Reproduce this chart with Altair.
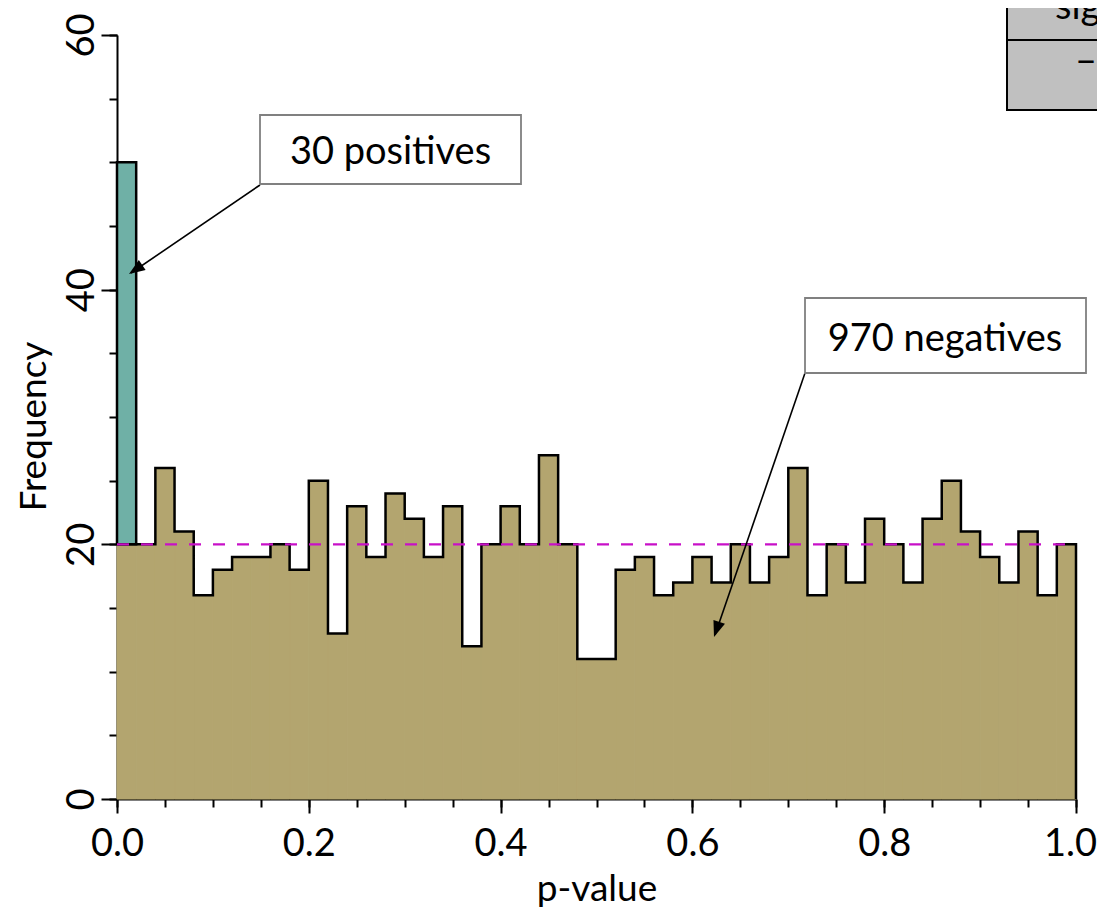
import altair as alt
import pandas as pd

# ---------------- data ----------------
bin_width = 0.02
bin_starts = [round(i * bin_width, 2) for i in range(50)]
negatives = [20, 20, 26, 21, 16, 18, 19, 19, 20, 18,
             25, 13, 23, 19, 24, 22, 19, 23, 12, 20,
             23, 20, 27, 20, 11, 11, 18, 19, 16, 17,
             19, 17, 20, 17, 19, 26, 16, 20, 17, 22,
             20, 17, 22, 25, 21, 19, 17, 21, 16, 20]
positives = [30] + [0] * 49
expected_level = [20]

x_major = [0.0, 0.2, 0.4, 0.6, 0.8, 1.0]
x_minor = [round(0.05 * k, 2) for k in range(21)]
y_major = [0, 20, 40, 60]
y_minor = list(range(0, 61, 5))

label_pos = "30 positives"
label_neg = "970 negatives"
table_header = "significant"
table_row = "–"

FONT = "Lato"
OLIVE = "#b3a56f"
TEAL = "#6fb0a6"
MAGENTA = "#c810c8"

# ---------------- tables ----------------
bins = pd.DataFrame({
    "x0": bin_starts,
    "x1": [round(b + bin_width, 2) for b in bin_starts],
    "n": negatives,
})
step_x = bin_starts + [1.0, 1.0]
step_y = negatives + [negatives[-1], 0]
steps = pd.DataFrame({"x": step_x, "y": step_y, "i": list(range(len(step_x)))})

pos_df = pd.DataFrame({
    "x0": [b for b, p in zip(bin_starts, positives) if p > 0],
    "x1": [round(b + bin_width, 2) for b, p in zip(bin_starts, positives) if p > 0],
    "y0": [n for n, p in zip(negatives, positives) if p > 0],
    "y1": [n + p for n, p in zip(negatives, positives) if p > 0],
})
ref_df = pd.DataFrame({"x0": [0.0], "x1": [1.0], "y": expected_level})

xs = alt.Scale(domain=[0, 1], nice=False, zero=False)
ys = alt.Scale(domain=[0, 60], nice=False)

x_axis = alt.Axis(orient="bottom", values=x_major, format=".1f", tickSize=14, labelPadding=12,
                  labelFlush=False, labelOverlap=False,
                  labelOffset={"condition": {"test": "datum.value >= 1", "value": -6}, "value": 0},
                  title="p-value",
                  titleY=101, titleBaseline="alphabetic", titleFontSize=37)
y_axis = alt.Axis(orient="left", values=y_major, format="d", tickSize=16, labelAngle=270,
                  labelAlign="center", labelBaseline="alphabetic", labelPadding=8,
                  labelFlush=False, labelOverlap=False, title="Frequency",
                  titleAngle=270, titleX=-72, titleY=391, titleAlign="center",
                  titleBaseline="alphabetic", titleFontSize=37)
x_minor_axis = alt.Axis(orient="bottom", values=x_minor, tickSize=8, labels=False,
                        domain=False, title=None)
y_minor_axis = alt.Axis(orient="left", values=y_minor, tickSize=8, labels=False,
                        domain=False, title=None)

fill = alt.Chart(bins).mark_rect(fill=OLIVE, stroke=OLIVE, strokeWidth=1).encode(
    x=alt.X("x0:Q", scale=xs, axis=x_axis), x2="x1:Q",
    y=alt.Y("n:Q", scale=ys, axis=y_axis), y2=alt.datum(0),
)

outline = alt.Chart(steps).mark_line(interpolate="step-after", color="black", strokeWidth=2.5).encode(
    x=alt.X("x:Q", scale=xs, axis=None),
    y=alt.Y("y:Q", scale=ys, axis=None),
    order=alt.Order("i:Q"),
)

pos_bar = alt.Chart(pos_df).mark_rect(fill=TEAL, stroke="black", strokeWidth=2.5).encode(
    x=alt.X("x0:Q", scale=xs, axis=None), x2="x1:Q",
    y=alt.Y("y0:Q", scale=ys, axis=None), y2="y1:Q",
)

ref_rule = alt.Chart(ref_df).mark_rule(color=MAGENTA, strokeWidth=2.2, strokeDash=[12, 12]).encode(
    x=alt.X("x0:Q", scale=xs, axis=x_minor_axis), x2="x1:Q",
    y=alt.Y("y:Q", scale=ys, axis=y_minor_axis),
)

one = alt.Data(values=[{"a": 1}])

def box(x0, x1, y0, y1, fill="white", stroke="#808080", sw=1.8):
    return alt.Chart(one).mark_rect(fill=fill, stroke=stroke, strokeWidth=sw).encode(
        x=alt.value(x0), x2=alt.value(x1), y=alt.value(y0), y2=alt.value(y1))

def seg(x0, y0, x1, y1, sw=1.6):
    return alt.Chart(one).mark_rule(color="black", strokeWidth=sw).encode(
        x=alt.value(x0), y=alt.value(y0), x2=alt.value(x1), y2=alt.value(y1))

def head(x, y, ang):
    return alt.Chart(one).mark_point(
        shape="M0,0L0.38,1L-0.38,1Z", size=1024, filled=True, color="black",
        opacity=1, strokeWidth=0, angle=ang).encode(x=alt.value(x), y=alt.value(y))

def label(x, y, txt, align="center", size=38):
    return alt.Chart(one).mark_text(font=FONT, fontSize=size, color="black",
                                    align=align, baseline="alphabetic").encode(
        x=alt.value(x), y=alt.value(y), text=alt.value(txt))

annotations = [
    seg(143, 150, 14, 238), head(12, 239, 235.8),
    box(143, 404, 80, 149), label(273.5, 129, label_pos),
    seg(688, 338, 598, 600), head(597, 602, 199.0),
    box(688, 969, 263, 338), label(828, 316, label_neg),
    box(890, 1010, -40, 75, fill="#c0c0c0", stroke="black", sw=2),
    seg(890, 5, 1010, 5, sw=2),
    label(938, -16, table_header, align="left"),
    label(958, 38, table_row, align="left"),
]

chart = alt.layer(fill, outline, pos_bar, ref_rule, *annotations).resolve_axis(
    x="independent", y="independent"
).properties(
    width=959, height=764,
    autosize=alt.AutoSizeParams(type="none"),
    padding={"left": 109, "top": 27, "right": 21, "bottom": 110},
).configure_view(stroke=None).configure_axis(
    grid=False, domainColor="black", domainWidth=2, tickColor="black", tickWidth=2,
    labelColor="black", titleColor="black", labelFont=FONT, titleFont=FONT,
    labelFontSize=38, titleFontSize=38, titleFontWeight="normal",
)

chart.save("out.html", embed_options={"renderer": "svg", "actions": False})
